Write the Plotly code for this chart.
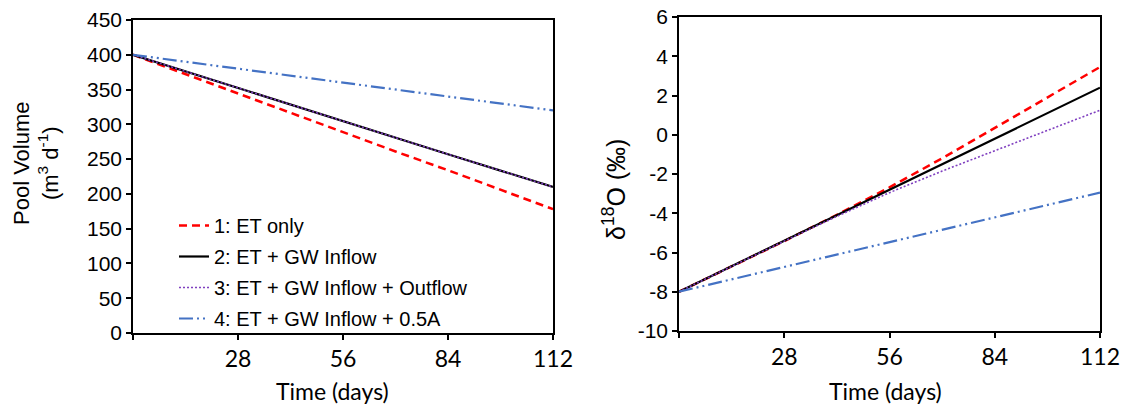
import plotly.graph_objects as go

# ---- data ----
days = [0, 14, 28, 42, 56, 70, 84, 98, 112]
series_names = ["1: ET only", "2: ET + GW Inflow", "3: ET + GW Inflow + Outflow", "4: ET + GW Inflow + 0.5A"]

vol_et = [400, 372, 344.5, 317, 289, 261, 234, 206, 178]
vol_gw = [400, 376, 352.5, 329, 305, 281, 257, 233.5, 210]
vol_out = [400, 376, 352.5, 329, 305, 281, 257, 233.5, 210]
vol_half = [400, 390, 380, 370, 360, 350, 340, 330, 320]

d18_et = [-8, -6.72, -5.42, -4.08, -2.68, -1.2, 0.35, 1.9, 3.45]
d18_gw = [-8, -6.7, -5.4, -4.1, -2.8, -1.5, -0.2, 1.1, 2.4]
d18_out = [-8, -6.7, -5.42, -4.16, -2.95, -1.85, -0.8, 0.22, 1.25]
d18_half = [-8, -7.37, -6.74, -6.1, -5.48, -4.85, -4.21, -3.58, -2.95]

x_tickvals = [0, 28, 56, 84, 112]
x_ticktext = ["", "28", "56", "84", "112"]
vol_ticks = [0, 50, 100, 150, 200, 250, 300, 350, 400, 450]
d18_ticks = [-10, -8, -6, -4, -2, 0, 2, 4, 6]
d18_ticktext = ["-10", "-8", "-6", "-4", "-2", "0", "2", "4", "6"]

# ---- styles ----
styles = [
    dict(color="#FF0000", width=2.5, dash="8px,5px"),
    dict(color="#000000", width=2.2, dash="solid"),
    dict(color="#8040C0", width=1.6, dash="2px,2px"),
    dict(color="#4472C4", width=2.2, dash="14px,4px,2px,4px,2px,4px"),
]

fig = go.Figure()
left = [vol_et, vol_gw, vol_out, vol_half]
right = [d18_et, d18_gw, d18_out, d18_half]
for i, (name, ys, st) in enumerate(zip(series_names, left, styles)):
    fig.add_trace(go.Scatter(x=days, y=ys, mode="lines", name=name, line=st,
                             xaxis="x", yaxis="y", showlegend=True, legendgroup=f"g{i}"))
for i, (name, ys, st) in enumerate(zip(series_names, right, styles)):
    fig.add_trace(go.Scatter(x=days, y=ys, mode="lines", name=name, line=st,
                             xaxis="x2", yaxis="y2", showlegend=False, legendgroup=f"g{i}"))

W, H = 1123, 408
def px_x(p):
    return p / W
def px_y(p):
    return 1 - p / H

axis_font = dict(family="Liberation Sans, Arial", size=21, color="#000")
xtick_font = dict(family="Lato, Open Sans", size=23, color="#000")

common_x = dict(range=[0, 112], tickvals=x_tickvals, ticktext=x_ticktext,
                showline=True, linecolor="#000", linewidth=1.5, mirror=True,
                ticks="outside", ticklen=5, tickcolor="#000", tickwidth=1.5,
                showgrid=False, zeroline=False, tickfont=xtick_font, automargin=False,
                ticklabeloverflow="allow")
common_y = dict(showline=True, linecolor="#000", linewidth=1.5, mirror=True,
                ticks="outside", ticklen=5, tickcolor="#000", tickwidth=1.5,
                showgrid=False, zeroline=False, tickfont=axis_font, automargin=False,
                ticklabeloverflow="allow")

fig.update_layout(
    width=W, height=H,
    margin=dict(l=0, r=0, t=0, b=0, autoexpand=False),
    paper_bgcolor="white", plot_bgcolor="white",
    xaxis=dict(domain=[px_x(133), px_x(553)], anchor="y", **common_x),
    yaxis=dict(domain=[px_y(333), px_y(20)], anchor="x", range=[0, 450],
               tickvals=vol_ticks, **common_y),
    xaxis2=dict(domain=[px_x(679), px_x(1100)], anchor="y2", **common_x),
    yaxis2=dict(domain=[px_y(331), px_y(17)], anchor="x2", range=[-10, 6],
                tickvals=d18_ticks, ticktext=d18_ticktext, **common_y),
    legend=dict(x=px_x(174), y=px_y(206), xanchor="left", yanchor="top",
                bgcolor="rgba(0,0,0,0)",
                font=dict(family="Liberation Sans, Arial", size=20, color="#000"),
                tracegroupgap=2),
    showlegend=True,
)

ann_font = dict(family="Liberation Sans, Arial", size=22, color="#000")
title_font = dict(family="Lato, Open Sans", size=23, color="#000")
fig.add_annotation(text="Pool Volume<br>(m<sup>3</sup> d<sup>-1</sup>)", x=px_x(36), y=px_y(163),
                   xref="paper", yref="paper", xanchor="center", yanchor="middle",
                   textangle=-90, showarrow=False, font=ann_font)
fig.add_annotation(text="δ<sup>18</sup>O (‰)", x=px_x(614), y=px_y(190),
                   xref="paper", yref="paper", xanchor="center", yanchor="middle",
                   textangle=-90, showarrow=False,
                   font=dict(family="Liberation Sans, Arial", size=25, color="#000"))
fig.add_annotation(text="Time (days)", x=px_x(332), y=px_y(391),
                   xref="paper", yref="paper", xanchor="center", yanchor="middle",
                   showarrow=False, font=title_font)
fig.add_annotation(text="Time (days)", x=px_x(885), y=px_y(391),
                   xref="paper", yref="paper", xanchor="center", yanchor="middle",
                   showarrow=False, font=title_font)

# remove the browser's default 8px page margin so the figure fills the window
fig.write_html("out.html", config={"displayModeBar": False},
               post_script="document.body.style.margin='0';")
